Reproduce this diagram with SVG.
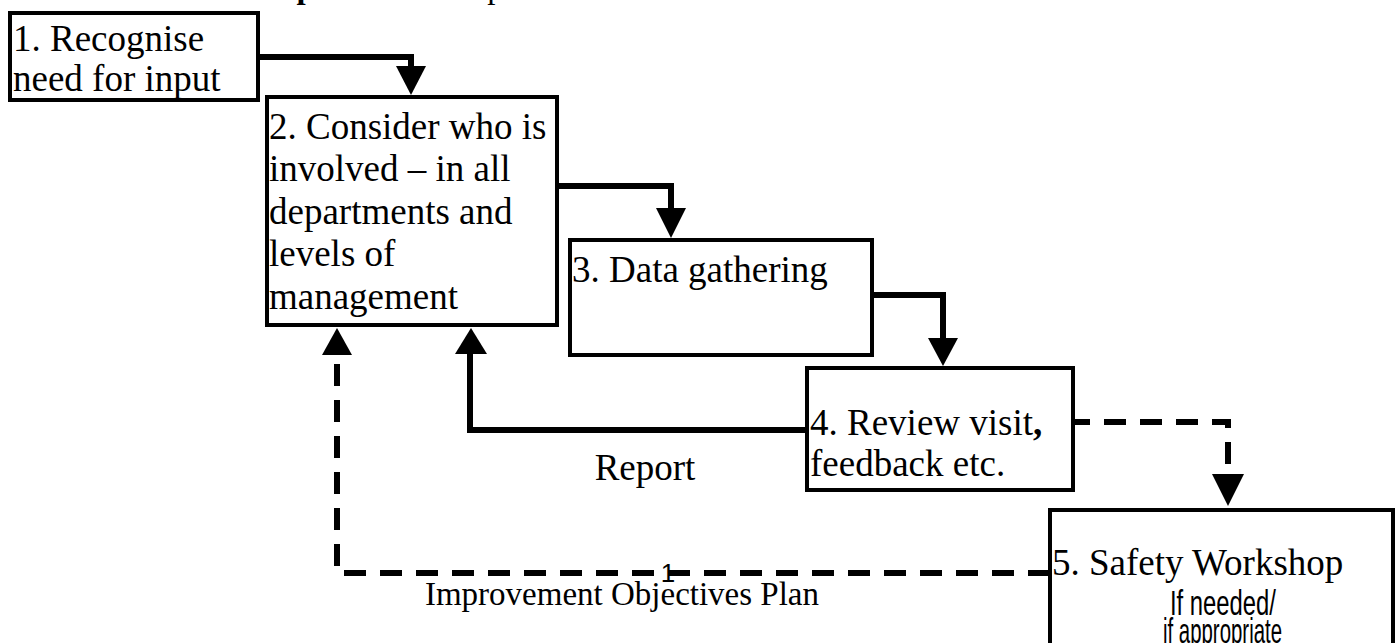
<svg xmlns="http://www.w3.org/2000/svg" width="1398" height="643" viewBox="0 0 1398 643">
<style>
.box{fill:#fff;stroke:#000;stroke-width:4}
.t{font-family:"Liberation Serif","Times New Roman",serif;font-size:37px;fill:#000}
.lbl{font-family:"Liberation Serif","Times New Roman",serif;font-size:33px;fill:#000}
.s{font-family:"Liberation Sans Narrow","Liberation Sans",Arial,sans-serif;font-size:35px;fill:#000}
.ln{fill:none;stroke:#000;stroke-width:6}
.dl{fill:none;stroke:#000;stroke-width:6;stroke-dasharray:22 14}
.hd{fill:#000;stroke:none}
</style>
<rect width="1398" height="643" fill="#fff"/>
<text y="-2" font-family="Liberation Serif, serif" font-size="33" fill="#000"><tspan x="75">A</tspan> <tspan x="135" font-weight="bold">Process Map</tspan> is used to explain how it would be carried out.</text>
<g id="connectors">
<polyline class="ln" points="256,57 411,57 411,68"/>
<polygon class="hd" points="396,66 426,66 411,95"/>
<polyline class="ln" points="555,186 671,186 671,210"/>
<polygon class="hd" points="656,208 686,208 671,238"/>
<polyline class="ln" points="870,295 943,295 943,340"/>
<polygon class="hd" points="928,338 958,338 943,366"/>
<polyline class="ln" points="807,430 470,430 470,350"/>
<polygon class="hd" points="455,354 487,354 471,328"/>
<polyline class="dl" points="1068,422 1228,422 1228,476"/>
<polygon class="hd" points="1212,474 1244,474 1228,506"/>
<polyline class="dl" points="1050,573 337,573 337,352"/>
<polygon class="hd" points="322,355 352,355 337,328"/>
<text x="668" y="582" font-family="Liberation Sans, Arial, sans-serif" font-size="26" fill="#000" text-anchor="middle">1</text>
<text class="t" x="645" y="480" text-anchor="middle">Report</text>
<text class="lbl" x="622" y="605" text-anchor="middle">Improvement Objectives Plan</text>
</g>
<g id="node1">
<rect class="box" x="10" y="13" width="248" height="87"/>
<text class="t" x="13" y="51">1. Recognise</text>
<text class="t" x="13" y="91">need for input</text>
</g>
<g id="node2">
<rect class="box" x="267" y="97" width="290" height="228"/>
<text class="t" x="269" y="139">2. Consider who is</text>
<text class="t" x="269" y="181">involved – in all</text>
<text class="t" x="269" y="224">departments and</text>
<text class="t" x="269" y="266">levels of</text>
<text class="t" x="269" y="309">management</text>
</g>
<g id="node3">
<rect class="box" x="570" y="240" width="302" height="115"/>
<text class="t" x="572" y="282">3. Data gathering</text>
</g>
<g id="node4">
<rect class="box" x="807" y="368" width="266" height="122"/>
<text class="t" x="810" y="435">4. Review visit<tspan font-weight="bold">,</tspan></text>
<text class="t" x="810" y="476">feedback etc.</text>
</g>
<g id="node5">
<rect class="box" x="1050" y="510" width="343" height="150"/>
<text class="t" x="1052" y="575">5. Safety Workshop</text>
<text class="s" x="1170" y="615" textLength="106" lengthAdjust="spacingAndGlyphs">If needed/</text>
<text class="s" x="1163" y="643" textLength="119" lengthAdjust="spacingAndGlyphs">if appropriate</text>
</g>
</svg>
